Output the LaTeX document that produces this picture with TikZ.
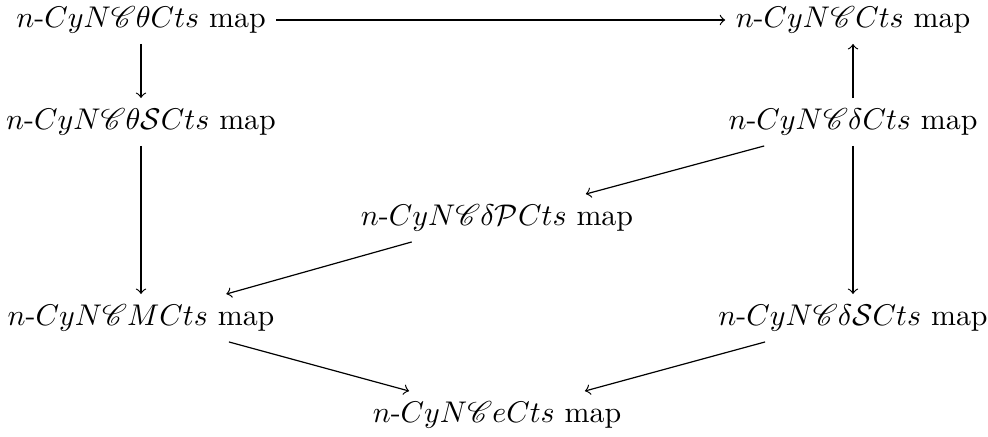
\documentclass[tikz,border=0pt]{standalone}
\usepackage{amsmath,amssymb}
\usepackage{mathrsfs}
\begin{document}
\begin{tikzpicture}[x=0.334pt,y=-0.334pt,
  obj/.style={inner sep=3.33pt},
  arr/.style={->}]
\useasboundingbox (0,0) rectangle (988,437);
% objects of the diagram, in three columns
\node[obj] (tc)  at (141,20)  {$n\text{-}CyN\mathscr{C}\theta Cts$ map};
\node[obj] (c)   at (853,20)  {$n\text{-}CyN\mathscr{C}Cts$ map};
\node[obj] (tsc) at (141,122) {$n\text{-}CyN\mathscr{C}\theta\mathcal{S}Cts$ map};
\node[obj] (dc)  at (853,122) {$n\text{-}CyN\mathscr{C}\delta Cts$ map};
\node[obj] (dpc) at (497,218) {$n\text{-}CyN\mathscr{C}\delta\mathcal{P}Cts$ map};
\node[obj] (mc)  at (141,318) {$n\text{-}CyN\mathscr{C}MCts$ map};
\node[obj] (dsc) at (853,318) {$n\text{-}CyN\mathscr{C}\delta\mathcal{S}Cts$ map};
\node[obj] (ec)  at (497,415) {$n\text{-}CyN\mathscr{C}eCts$ map};
% morphisms
\draw[arr] (tc) -- (c);
\draw[arr] (tc) -- (tsc);
\draw[arr] (tsc) -- (mc);
\draw[arr] (dc) -- (c);
\draw[arr] (dc) -- (dpc);
\draw[arr] (dc) -- (dsc);
\draw[arr] (dpc) -- (mc);
\draw[arr] (mc) -- (ec);
\draw[arr] (dsc) -- (ec);
\end{tikzpicture}
\end{document}
